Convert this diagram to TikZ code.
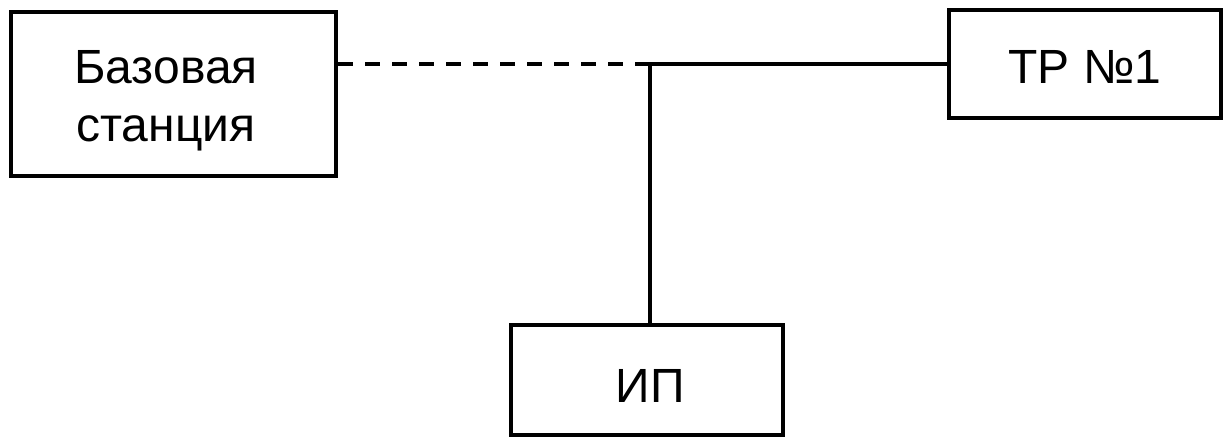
\documentclass[tikz,border=0pt]{standalone}
\usepackage{fontspec}
\setmainfont{Liberation Sans}
\begin{document}
\begin{tikzpicture}[x=1pt,y=-1pt,
  blk/.style={draw=black,line width=4pt,rectangle,inner sep=0pt,font=\fontsize{48}{58}\selectfont},
  lbl/.style={inner sep=0pt,font=\fontsize{48}{58}\selectfont},
  wire/.style={line width=4pt,draw=black},
  dwire/.style={line width=4pt,draw=black,dash pattern=on 15pt off 12pt}]
\useasboundingbox (0,0) rectangle (1231,444);
\node[blk,minimum width=325pt,minimum height=164pt] (bs) at (173.5,94) {};
\node[lbl,anchor=base] (bs1) at (166,83) {Базовая};
\node[lbl,anchor=base] (bs2) at (166,141) {станция};
\node[blk,minimum width=272pt,minimum height=108pt] (tp) at (1085,64) {};
\node[lbl,anchor=base] (tpt) at (1085,83) {ТР №1};
\node[blk,minimum width=272pt,minimum height=110pt] (ip) at (646.5,380) {};
\node[lbl,anchor=base] (ipt) at (650,402) {ИП};
\coordinate (j) at (650,64);
\draw[dwire] (bs.east |- j) -- ([xshift=2pt]j);
\draw[wire] ([xshift=-2pt]j) -- (tp.west);
\draw[wire] ([yshift=-2pt]j) -- (j |- ip.north);
\end{tikzpicture}
\end{document}
